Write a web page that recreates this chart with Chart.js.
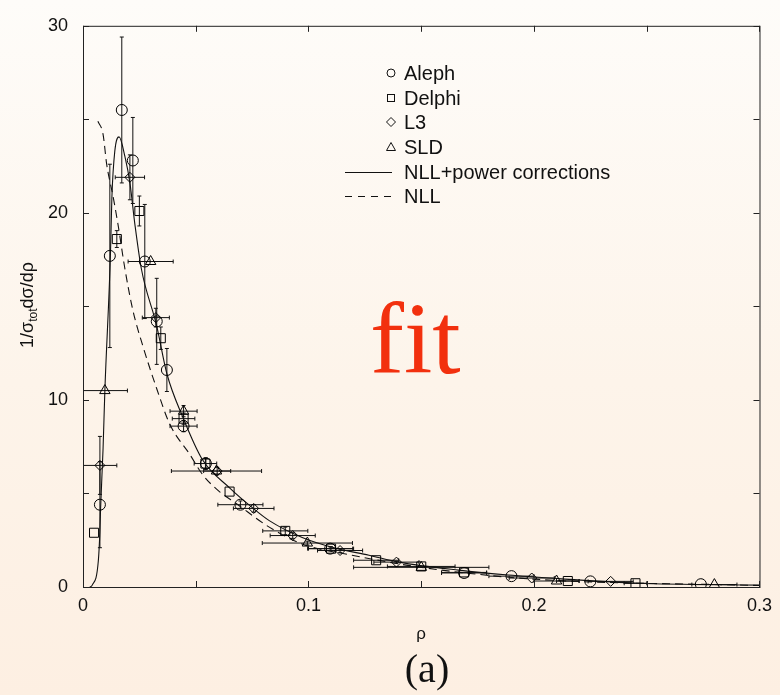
<!DOCTYPE html>
<html>
<head>
<meta charset="utf-8">
<script src="https://cdn.jsdelivr.net/npm/chart.js@4.4.0/dist/chart.umd.min.js"></script>
<style>
  html, body { margin: 0; padding: 0; }
  body {
    width: 780px;
    height: 695px;
    background: linear-gradient(to bottom, #fefcf9 0%, #fdf4ea 55%, #fdefe2 100%);
  }
</style>
</head>
<body>
<canvas id="rho-chart" width="780" height="695"></canvas>
<script>
// Heavy jet mass distribution: data from the four experiments plus two theory curves

// Aleph (circles)
const alephX    = [0.0075, 0.0119, 0.0172, 0.0221, 0.0274, 0.0327, 0.0372, 0.0446, 0.0545, 0.0698, 0.1096, 0.1690, 0.1900, 0.2250, 0.2740];
const alephY    = [4.4, 17.7, 25.5, 22.8, 17.4, 14.2, 11.6, 8.6, 6.6, 4.4, 2.05, 0.75, 0.58, 0.30, 0.15];
const alephXerr = [0, 0, 0, 0, 0, 0, 0, 0.006, 0, 0.01, 0.01, 0.01, 0.01, 0, 0];
const alephYerr = [2.3, 4.9, 3.9, 2.3, 3.05, 2.3, 1.15, 0.3, 0.3, 0.2, 0.1, 0, 0, 0, 0];

// Delphi (squares)
const delphiX    = [0.0049, 0.0150, 0.0250, 0.0345, 0.0446, 0.0543, 0.0650, 0.0897, 0.1100, 0.1300, 0.1500, 0.1690, 0.2150, 0.2450];
const delphiY    = [2.9, 18.6, 20.1, 13.3, 9.0, 6.6, 5.1, 3.0, 2.05, 1.43, 1.10, 0.78, 0.32, 0.20];
const delphiXerr = [0, 0, 0, 0, 0.005, 0.005, 0, 0.01, 0.01, 0.01, 0.015, 0.01, 0.005, 0.005];
const delphiYerr = [0, 0.45, 0.8, 0.6, 0.3, 0.3, 0, 0.2, 0.1, 0, 0, 0, 0, 0];

// L3 (diamonds)
const l3X    = [0.0075, 0.0208, 0.0323, 0.0595, 0.0757, 0.0930, 0.1140, 0.1390, 0.1990, 0.2340];
const l3Y    = [6.5, 21.9, 14.4, 6.2, 4.2, 2.75, 1.95, 1.33, 0.48, 0.30];
const l3Xerr = [0.0075, 0.0065, 0.006, 0.006, 0.009, 0.01, 0.01, 0.01, 0.01, 0.01];
const l3Yerr = [1.55, 1.2, 0.5, 0.2, 0.2, 0.15, 0.1, 0.05, 0, 0];

// SLD (triangles)
const sldX    = [0.0097, 0.0300, 0.0446, 0.0592, 0.0995, 0.1500, 0.2100, 0.2800];
const sldY    = [10.5, 17.4, 9.4, 6.2, 2.35, 1.05, 0.32, 0.13];
const sldXerr = [0.01, 0.01, 0.006, 0.02, 0.02, 0.03, 0.01, 0.01];
const sldYerr = [0, 0, 0.3, 0, 0.1, 0, 0, 0];

// NLL + power corrections (solid curve)
const fitX = [0.0030, 0.0041, 0.0068, 0.0075, 0.0078, 0.0089, 0.0097, 0.0122, 0.0128, 0.0141, 0.0160, 0.0186, 0.0208, 0.0230, 0.0259, 0.0326, 0.0372, 0.0442, 0.0530, 0.0650, 0.0751, 0.0826, 0.0972, 0.1122, 0.1268, 0.1401, 0.1666, 0.1887, 0.2108, 0.2461, 0.3000];
const fitY = [0, 0.1, 1.4, 3.0, 4.2, 7.4, 10.5, 17.9, 20.8, 23.3, 24.06, 23.0, 21.6, 19.4, 17.0, 14.0, 11.4, 9.1, 6.8, 5.3, 4.24, 3.55, 2.65, 2.07, 1.7, 1.33, 0.9, 0.64, 0.45, 0.2, 0.1];

// NLL only (dashed curve)
const nllX = [0.0066, 0.0089, 0.0105, 0.0133, 0.0155, 0.0186, 0.0221, 0.0265, 0.0327, 0.0385, 0.0473, 0.0531, 0.0605, 0.0681, 0.0826, 0.0972, 0.1193, 0.1500, 0.2000, 0.3000];
const nllY = [24.9, 24.2, 22.6, 20.9, 19.4, 17.0, 14.8, 12.9, 10.6, 8.7, 7.1, 6.0, 5.1, 4.45, 3.2, 2.3, 1.7, 1.05, 0.42, 0.08];

// Axis ticks
const xMajor = [0, 0.1, 0.2, 0.3];
const xTickLabels = ['0', '0.1', '0.2', '0.3'];
const xMinor = [0, 0.05, 0.1, 0.15, 0.2, 0.25, 0.3];
const yMajor = [0, 10, 20, 30];
const yTickLabels = ['0', '10', '20', '30'];
const yMinor = [0, 5, 10, 15, 20, 25, 30];

const SANS = "'Liberation Sans', Arial, Helvetica, sans-serif";
const SERIF = "'Liberation Serif', 'Times New Roman', serif";

function points(xs, ys, xe, ye) {
    return xs.map((x, i) => ({ x: x, y: ys[i], xerr: xe[i], yerr: ye[i] }));
}

function curve(xs, ys) {
    return xs.map((x, i) => ({ x: x, y: ys[i] }));
}

function markerSet(label, data, style, radius) {
    return {
        label: label,
        type: 'scatter',
        data: data,
        errorBars: true,
        pointStyle: style,
        pointRadius: radius,
        pointHoverRadius: radius,
        pointBorderColor: '#000',
        pointBackgroundColor: 'rgba(0,0,0,0)',
        pointBorderWidth: 1
    };
}

// Draw x/y error bars with small caps under the markers
const errorBarPlugin = {
    id: 'errorBars',
    beforeDatasetsDraw(chart) {
        const { ctx, chartArea, scales } = chart;
        const xs = scales.x, ys = scales.y;
        ctx.save();
        ctx.beginPath();
        ctx.rect(chartArea.left, chartArea.top, chartArea.right - chartArea.left, chartArea.bottom - chartArea.top);
        ctx.clip();
        ctx.strokeStyle = '#111';
        ctx.lineWidth = 1;
        chart.data.datasets.forEach(ds => {
            if (!ds.errorBars) return;
            ds.data.forEach(p => {
                const px = xs.getPixelForValue(p.x);
                const py = ys.getPixelForValue(p.y);
                ctx.beginPath();
                if (p.xerr) {
                    const x0 = xs.getPixelForValue(p.x - p.xerr);
                    const x1 = xs.getPixelForValue(p.x + p.xerr);
                    ctx.moveTo(x0, py); ctx.lineTo(x1, py);
                    ctx.moveTo(x0, py - 2); ctx.lineTo(x0, py + 2);
                    ctx.moveTo(x1, py - 2); ctx.lineTo(x1, py + 2);
                }
                if (p.yerr) {
                    const y0 = ys.getPixelForValue(p.y - p.yerr);
                    const y1 = ys.getPixelForValue(p.y + p.yerr);
                    ctx.moveTo(px, y0); ctx.lineTo(px, y1);
                    ctx.moveTo(px - 2, y0); ctx.lineTo(px + 2, y0);
                    ctx.moveTo(px - 2, y1); ctx.lineTo(px + 2, y1);
                }
                ctx.stroke();
            });
        });
        ctx.restore();
    }
};

// Box around the plot with inward ticks on all four sides
const framePlugin = {
    id: 'frame',
    afterDraw(chart) {
        const { ctx, chartArea: a, scales } = chart;
        const t = 6;
        ctx.save();
        ctx.strokeStyle = '#222';
        ctx.lineWidth = 1;
        ctx.strokeRect(a.left + 0.5, a.top + 0.5, a.right - a.left, a.bottom - a.top);
        ctx.beginPath();
        xMinor.forEach(v => {
            const px = Math.round(scales.x.getPixelForValue(v)) + 0.5;
            ctx.moveTo(px, a.bottom); ctx.lineTo(px, a.bottom - t);
            ctx.moveTo(px, a.top); ctx.lineTo(px, a.top + t);
        });
        yMinor.forEach(v => {
            const py = Math.round(scales.y.getPixelForValue(v)) + 0.5;
            ctx.moveTo(a.left, py); ctx.lineTo(a.left + t, py);
            ctx.moveTo(a.right, py); ctx.lineTo(a.right - t, py);
        });
        ctx.stroke();
        ctx.restore();
    }
};

// Legend, axis titles, panel label and the "fit" tag
const annotationPlugin = {
    id: 'annotations',
    afterDraw(chart) {
        const ctx = chart.ctx;
        ctx.save();
        ctx.fillStyle = '#111';
        ctx.strokeStyle = '#111';
        ctx.lineWidth = 1;

        // legend
        const mx = 391, tx = 404, rows = [73, 98, 122, 147, 172, 196];
        ctx.font = '20px ' + SANS;
        ctx.textBaseline = 'middle';
        ctx.textAlign = 'left';
        const names = ['Aleph', 'Delphi', 'L3', 'SLD', 'NLL+power corrections', 'NLL'];
        names.forEach((n, i) => ctx.fillText(n, tx, rows[i] + 1));

        ctx.beginPath();
        ctx.arc(mx, rows[0], 4, 0, Math.PI * 2);
        ctx.stroke();
        ctx.strokeRect(mx - 3.5, rows[1] - 3.5, 7, 7);
        ctx.beginPath();
        ctx.moveTo(mx, rows[2] - 4.5); ctx.lineTo(mx + 4.5, rows[2]);
        ctx.lineTo(mx, rows[2] + 4.5); ctx.lineTo(mx - 4.5, rows[2]);
        ctx.closePath();
        ctx.stroke();
        ctx.beginPath();
        ctx.moveTo(mx, rows[3] - 4.5); ctx.lineTo(mx + 4.5, rows[3] + 3.5);
        ctx.lineTo(mx - 4.5, rows[3] + 3.5);
        ctx.closePath();
        ctx.stroke();
        ctx.beginPath();
        ctx.moveTo(345, rows[4] + 0.5); ctx.lineTo(392, rows[4] + 0.5);
        ctx.stroke();
        ctx.setLineDash([7, 6]);
        ctx.beginPath();
        ctx.moveTo(345, rows[5] + 0.5); ctx.lineTo(392, rows[5] + 0.5);
        ctx.stroke();
        ctx.setLineDash([]);

        // x axis title
        ctx.font = '17px ' + SANS;
        ctx.textAlign = 'center';
        ctx.fillText('ρ', 421, 634);

        // y axis title with subscript
        ctx.save();
        ctx.translate(28, 305);
        ctx.rotate(-Math.PI / 2);
        const big = '18px ' + SANS, small = '12px ' + SANS;
        ctx.textAlign = 'left';
        ctx.textBaseline = 'alphabetic';
        ctx.font = big;
        const w1 = ctx.measureText('1/σ').width;
        const w3 = ctx.measureText('dσ/dρ').width;
        ctx.font = small;
        const w2 = ctx.measureText('tot').width;
        let cx = -(w1 + w2 + w3) / 2;
        ctx.font = big;
        ctx.fillText('1/σ', cx, 5);
        cx += w1;
        ctx.font = small;
        ctx.fillText('tot', cx, 9);
        cx += w2;
        ctx.font = big;
        ctx.fillText('dσ/dρ', cx, 5);
        ctx.restore();

        // panel label
        ctx.font = '40px ' + SERIF;
        ctx.textAlign = 'center';
        ctx.textBaseline = 'alphabetic';
        ctx.fillText('(a)', 427, 682);

        // red tag inside the plot
        ctx.font = '102px ' + SERIF;
        ctx.textAlign = 'left';
        ctx.fillStyle = '#f2300e';
        ctx.fillText('fit', 370, 373);

        ctx.restore();
    }
};

const ctx = document.getElementById('rho-chart').getContext('2d');

new Chart(ctx, {
    type: 'scatter',
    data: {
        datasets: [
            markerSet('Aleph', points(alephX, alephY, alephXerr, alephYerr), 'circle', 5.5),
            markerSet('Delphi', points(delphiX, delphiY, delphiXerr, delphiYerr), 'rect', 6.4),
            markerSet('L3', points(l3X, l3Y, l3Xerr, l3Yerr), 'rectRot', 5),
            markerSet('SLD', points(sldX, sldY, sldXerr, sldYerr), 'triangle', 6),
            {
                label: 'NLL+power corrections',
                type: 'line',
                data: curve(fitX, fitY),
                borderColor: '#111',
                borderWidth: 1.1,
                pointRadius: 0,
                fill: false,
                cubicInterpolationMode: 'monotone'
            },
            {
                label: 'NLL',
                type: 'line',
                data: curve(nllX, nllY),
                borderColor: '#111',
                borderWidth: 1.1,
                borderDash: [8, 5],
                pointRadius: 0,
                fill: false,
                cubicInterpolationMode: 'monotone'
            }
        ]
    },
    options: {
        responsive: false,
        animation: false,
        layout: { padding: { left: 0, top: 21, right: 18, bottom: 0 } },
        plugins: {
            legend: { display: false },
            tooltip: { enabled: false }
        },
        scales: {
            x: {
                type: 'linear',
                min: 0,
                max: 0.3,
                afterFit: scale => { scale.height = 108; },
                afterBuildTicks: scale => { scale.ticks = xMajor.map(v => ({ value: v })); },
                grid: { display: false, drawTicks: false },
                border: { display: false },
                ticks: {
                    padding: 8,
                    color: '#111',
                    font: { family: SANS, size: 18 },
                    maxRotation: 0,
                    callback: (v, i) => xTickLabels[i]
                }
            },
            y: {
                type: 'linear',
                min: 0,
                max: 30,
                afterFit: scale => { scale.width = 83; },
                afterBuildTicks: scale => { scale.ticks = yMajor.map(v => ({ value: v })); },
                grid: { display: false, drawTicks: false },
                border: { display: false },
                ticks: {
                    padding: 15,
                    color: '#111',
                    font: { family: SANS, size: 18 },
                    callback: (v, i) => yTickLabels[i]
                }
            }
        }
    },
    plugins: [errorBarPlugin, framePlugin, annotationPlugin]
});
</script>
</body>
</html>
